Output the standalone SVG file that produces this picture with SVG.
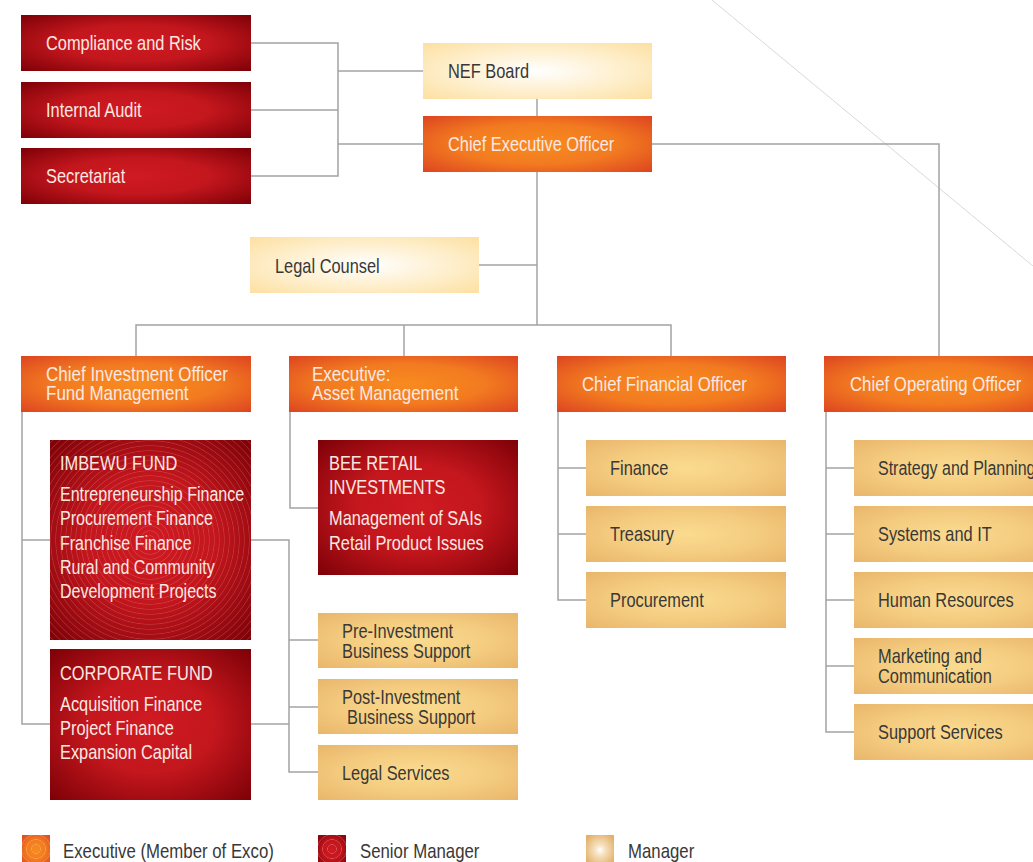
<svg xmlns="http://www.w3.org/2000/svg" width="1033" height="862" viewBox="0 0 1033 862">
<style>
.t{font-family:"Liberation Sans",Arial,sans-serif;font-size:20px}
.w{fill:#fbe8e2}
.d{fill:#3a3836}
.c{stroke:#a3a3a3;stroke-width:1.5;fill:none}
.red{fill:url(#redG)}
.org{fill:url(#orgG)}
.crm{fill:url(#crmG)}
.mgr{fill:url(#mgrG)}
</style>
<defs>
<radialGradient id="redG" cx="0.5" cy="0.5" r="0.72">
<stop offset="0" stop-color="#d01a22"/><stop offset="0.45" stop-color="#c3161d"/><stop offset="1" stop-color="#7a0006"/>
</radialGradient>
<radialGradient id="orgG" cx="0.5" cy="0.5" r="0.72">
<stop offset="0" stop-color="#f88b1f"/><stop offset="0.5" stop-color="#f27a20"/><stop offset="1" stop-color="#dc4220"/>
</radialGradient>
<radialGradient id="crmG" cx="0.5" cy="0.5" r="0.7">
<stop offset="0" stop-color="#ffffff"/><stop offset="0.5" stop-color="#fef0d0"/><stop offset="1" stop-color="#fde0a2"/>
</radialGradient>
<radialGradient id="mgrG" cx="0.5" cy="0.5" r="0.72">
<stop offset="0" stop-color="#fadb8f"/><stop offset="0.5" stop-color="#f4cc80"/><stop offset="1" stop-color="#e8b56a"/>
</radialGradient>
<radialGradient id="rings" gradientUnits="userSpaceOnUse" cx="150" cy="540" r="5" spreadMethod="repeat">
<stop offset="0" stop-color="#ffffff" stop-opacity="0"/><stop offset="0.7" stop-color="#ffffff" stop-opacity="0"/><stop offset="0.85" stop-color="#ffffff" stop-opacity="0.16"/><stop offset="1" stop-color="#ffffff" stop-opacity="0"/>
</radialGradient>
<radialGradient id="lgRingsO" gradientUnits="userSpaceOnUse" cx="36" cy="849" r="5" spreadMethod="repeat">
<stop offset="0" stop-color="#ffffff" stop-opacity="0"/><stop offset="0.75" stop-color="#ffffff" stop-opacity="0"/><stop offset="0.9" stop-color="#ffffff" stop-opacity="0.25"/><stop offset="1" stop-color="#ffffff" stop-opacity="0"/>
</radialGradient>
<radialGradient id="lgRingsR" gradientUnits="userSpaceOnUse" cx="332" cy="849" r="5" spreadMethod="repeat">
<stop offset="0" stop-color="#ffffff" stop-opacity="0"/><stop offset="0.75" stop-color="#ffffff" stop-opacity="0"/><stop offset="0.9" stop-color="#ffffff" stop-opacity="0.25"/><stop offset="1" stop-color="#ffffff" stop-opacity="0"/>
</radialGradient>
<radialGradient id="lgM" cx="0.5" cy="0.5" r="0.6">
<stop offset="0" stop-color="#ffffff"/><stop offset="0.3" stop-color="#f6e2c0"/><stop offset="1" stop-color="#e2b26a"/>
</radialGradient>
</defs>
<rect width="1033" height="862" fill="#ffffff"/>
<line x1="712" y1="0" x2="1033" y2="266" stroke="#d9d9d9" stroke-width="1"/>

<g id="connectors">
<polyline class="c" points="251,43 338,43 338,176 251,176"/>
<line class="c" x1="251" y1="110" x2="338" y2="110"/>
<line class="c" x1="338" y1="71" x2="423" y2="71"/>
<line class="c" x1="338" y1="144" x2="423" y2="144"/>
<line class="c" x1="537" y1="99" x2="537" y2="116"/>
<line class="c" x1="537" y1="172" x2="537" y2="325"/>
<line class="c" x1="479" y1="265" x2="537" y2="265"/>
<polyline class="c" points="652,144 939,144 939,356"/>
<polyline class="c" points="136,356 136,325 671,325 671,356"/>
<line class="c" x1="404" y1="325" x2="404" y2="356"/>
<polyline class="c" points="22,412 22,724 50,724"/>
<line class="c" x1="22" y1="540" x2="50" y2="540"/>
<polyline class="c" points="290,412 290,508 318,508"/>
<polyline class="c" points="251,540 289,540 289,772 318,772"/>
<line class="c" x1="251" y1="724" x2="289" y2="724"/>
<line class="c" x1="289" y1="640" x2="318" y2="640"/>
<line class="c" x1="289" y1="707" x2="318" y2="707"/>
<polyline class="c" points="558,412 558,600 586,600"/>
<line class="c" x1="558" y1="468" x2="586" y2="468"/>
<line class="c" x1="558" y1="534" x2="586" y2="534"/>
<polyline class="c" points="826,412 826,732 854,732"/>
<line class="c" x1="826" y1="468" x2="854" y2="468"/>
<line class="c" x1="826" y1="534" x2="854" y2="534"/>
<line class="c" x1="826" y1="600" x2="854" y2="600"/>
<line class="c" x1="826" y1="666" x2="854" y2="666"/>
</g>

<g id="compliance"><rect class="red" x="21" y="15" width="230" height="56"/><text class="t w" transform="translate(46,50) scale(0.82,1)">Compliance and Risk</text></g>
<g id="audit"><rect class="red" x="21" y="82" width="230" height="56"/><text class="t w" transform="translate(46,117) scale(0.82,1)">Internal Audit</text></g>
<g id="secretariat"><rect class="red" x="21" y="148" width="230" height="56"/><text class="t w" transform="translate(46,183) scale(0.82,1)">Secretariat</text></g>

<g id="board"><rect class="crm" x="423" y="43" width="229" height="56"/><text class="t d" transform="translate(448,78) scale(0.82,1)">NEF Board</text></g>
<g id="ceo"><rect class="org" x="423" y="116" width="229" height="56"/><text class="t w" transform="translate(448,151) scale(0.82,1)">Chief Executive Officer</text></g>
<g id="legal-counsel"><rect class="crm" x="250" y="237" width="229" height="56"/><text class="t d" transform="translate(275,273) scale(0.82,1)">Legal Counsel</text></g>

<g id="cio"><rect class="org" x="21" y="356" width="230" height="56"/><text class="t w" transform="translate(46,381) scale(0.85,1)">Chief Investment Officer</text><text class="t w" transform="translate(46,400) scale(0.85,1)">Fund Management</text></g>
<g id="exec-am"><rect class="org" x="289" y="356" width="229" height="56"/><text class="t w" transform="translate(312,381) scale(0.85,1)">Executive:</text><text class="t w" transform="translate(312,400) scale(0.85,1)">Asset Management</text></g>
<g id="cfo"><rect class="org" x="557" y="356" width="229" height="56"/><text class="t w" transform="translate(582,391) scale(0.84,1)">Chief Financial Officer</text></g>
<g id="coo"><rect class="org" x="824" y="356" width="229" height="56"/><text class="t w" transform="translate(850,391) scale(0.84,1)">Chief Operating Officer</text></g>

<g id="imbewu"><rect class="red" x="50" y="440" width="201" height="200"/><rect x="50" y="440" width="201" height="200" fill="url(#rings)"/>
<text class="t w" transform="translate(60,470) scale(0.82,1)">IMBEWU FUND</text>
<text class="t w" transform="translate(60,501) scale(0.8,1)">Entrepreneurship Finance</text>
<text class="t w" transform="translate(60,525) scale(0.8,1)">Procurement Finance</text>
<text class="t w" transform="translate(60,550) scale(0.8,1)">Franchise Finance</text>
<text class="t w" transform="translate(60,574) scale(0.8,1)">Rural and Community</text>
<text class="t w" transform="translate(60,598) scale(0.8,1)">Development Projects</text></g>

<g id="corporate"><rect class="red" x="50" y="649" width="201" height="151"/>
<text class="t w" transform="translate(60,680) scale(0.82,1)">CORPORATE FUND</text>
<text class="t w" transform="translate(60,711) scale(0.82,1)">Acquisition Finance</text>
<text class="t w" transform="translate(60,735) scale(0.82,1)">Project Finance</text>
<text class="t w" transform="translate(60,759) scale(0.82,1)">Expansion Capital</text></g>

<g id="bee"><rect class="red" x="318" y="440" width="200" height="135"/>
<text class="t w" transform="translate(329,470) scale(0.82,1)">BEE RETAIL</text>
<text class="t w" transform="translate(329,494) scale(0.82,1)">INVESTMENTS</text>
<text class="t w" transform="translate(329,525) scale(0.82,1)">Management of SAIs</text>
<text class="t w" transform="translate(329,550) scale(0.82,1)">Retail Product Issues</text></g>

<g id="pre-inv"><rect class="mgr" x="318" y="613" width="200" height="55"/><text class="t d" transform="translate(342,638) scale(0.82,1)">Pre-Investment</text><text class="t d" transform="translate(342,658) scale(0.82,1)">Business Support</text></g>
<g id="post-inv"><rect class="mgr" x="318" y="679" width="200" height="55"/><text class="t d" transform="translate(342,704) scale(0.82,1)">Post-Investment</text><text class="t d" transform="translate(347,724) scale(0.82,1)">Business Support</text></g>
<g id="legal-services"><rect class="mgr" x="318" y="745" width="200" height="55"/><text class="t d" transform="translate(342,780) scale(0.82,1)">Legal Services</text></g>

<g id="finance"><rect class="mgr" x="586" y="440" width="200" height="56"/><text class="t d" transform="translate(610,475) scale(0.82,1)">Finance</text></g>
<g id="treasury"><rect class="mgr" x="586" y="506" width="200" height="56"/><text class="t d" transform="translate(610,541) scale(0.82,1)">Treasury</text></g>
<g id="procurement"><rect class="mgr" x="586" y="572" width="200" height="56"/><text class="t d" transform="translate(610,607) scale(0.82,1)">Procurement</text></g>

<g id="strategy"><rect class="mgr" x="854" y="440" width="200" height="56"/><text class="t d" transform="translate(878,475) scale(0.8,1)">Strategy and Planning</text></g>
<g id="systems"><rect class="mgr" x="854" y="506" width="200" height="56"/><text class="t d" transform="translate(878,541) scale(0.82,1)">Systems and IT</text></g>
<g id="hr"><rect class="mgr" x="854" y="572" width="200" height="56"/><text class="t d" transform="translate(878,607) scale(0.82,1)">Human Resources</text></g>
<g id="marketing"><rect class="mgr" x="854" y="638" width="200" height="56"/><text class="t d" transform="translate(878,663) scale(0.82,1)">Marketing and</text><text class="t d" transform="translate(878,683) scale(0.82,1)">Communication</text></g>
<g id="support"><rect class="mgr" x="854" y="704" width="200" height="56"/><text class="t d" transform="translate(878,739) scale(0.82,1)">Support Services</text></g>

<g id="legend">
<rect class="org" x="22" y="835" width="28" height="30"/><rect x="22" y="835" width="28" height="30" fill="url(#lgRingsO)"/>
<text class="t d" transform="translate(63,858) scale(0.84,1)">Executive (Member of Exco)</text>
<rect class="red" x="318" y="835" width="28" height="30"/><rect x="318" y="835" width="28" height="30" fill="url(#lgRingsR)"/>
<text class="t d" transform="translate(360,858) scale(0.84,1)">Senior Manager</text>
<rect x="586" y="835" width="28" height="30" fill="url(#lgM)"/>
<text class="t d" transform="translate(628,858) scale(0.84,1)">Manager</text>
</g>
</svg>
